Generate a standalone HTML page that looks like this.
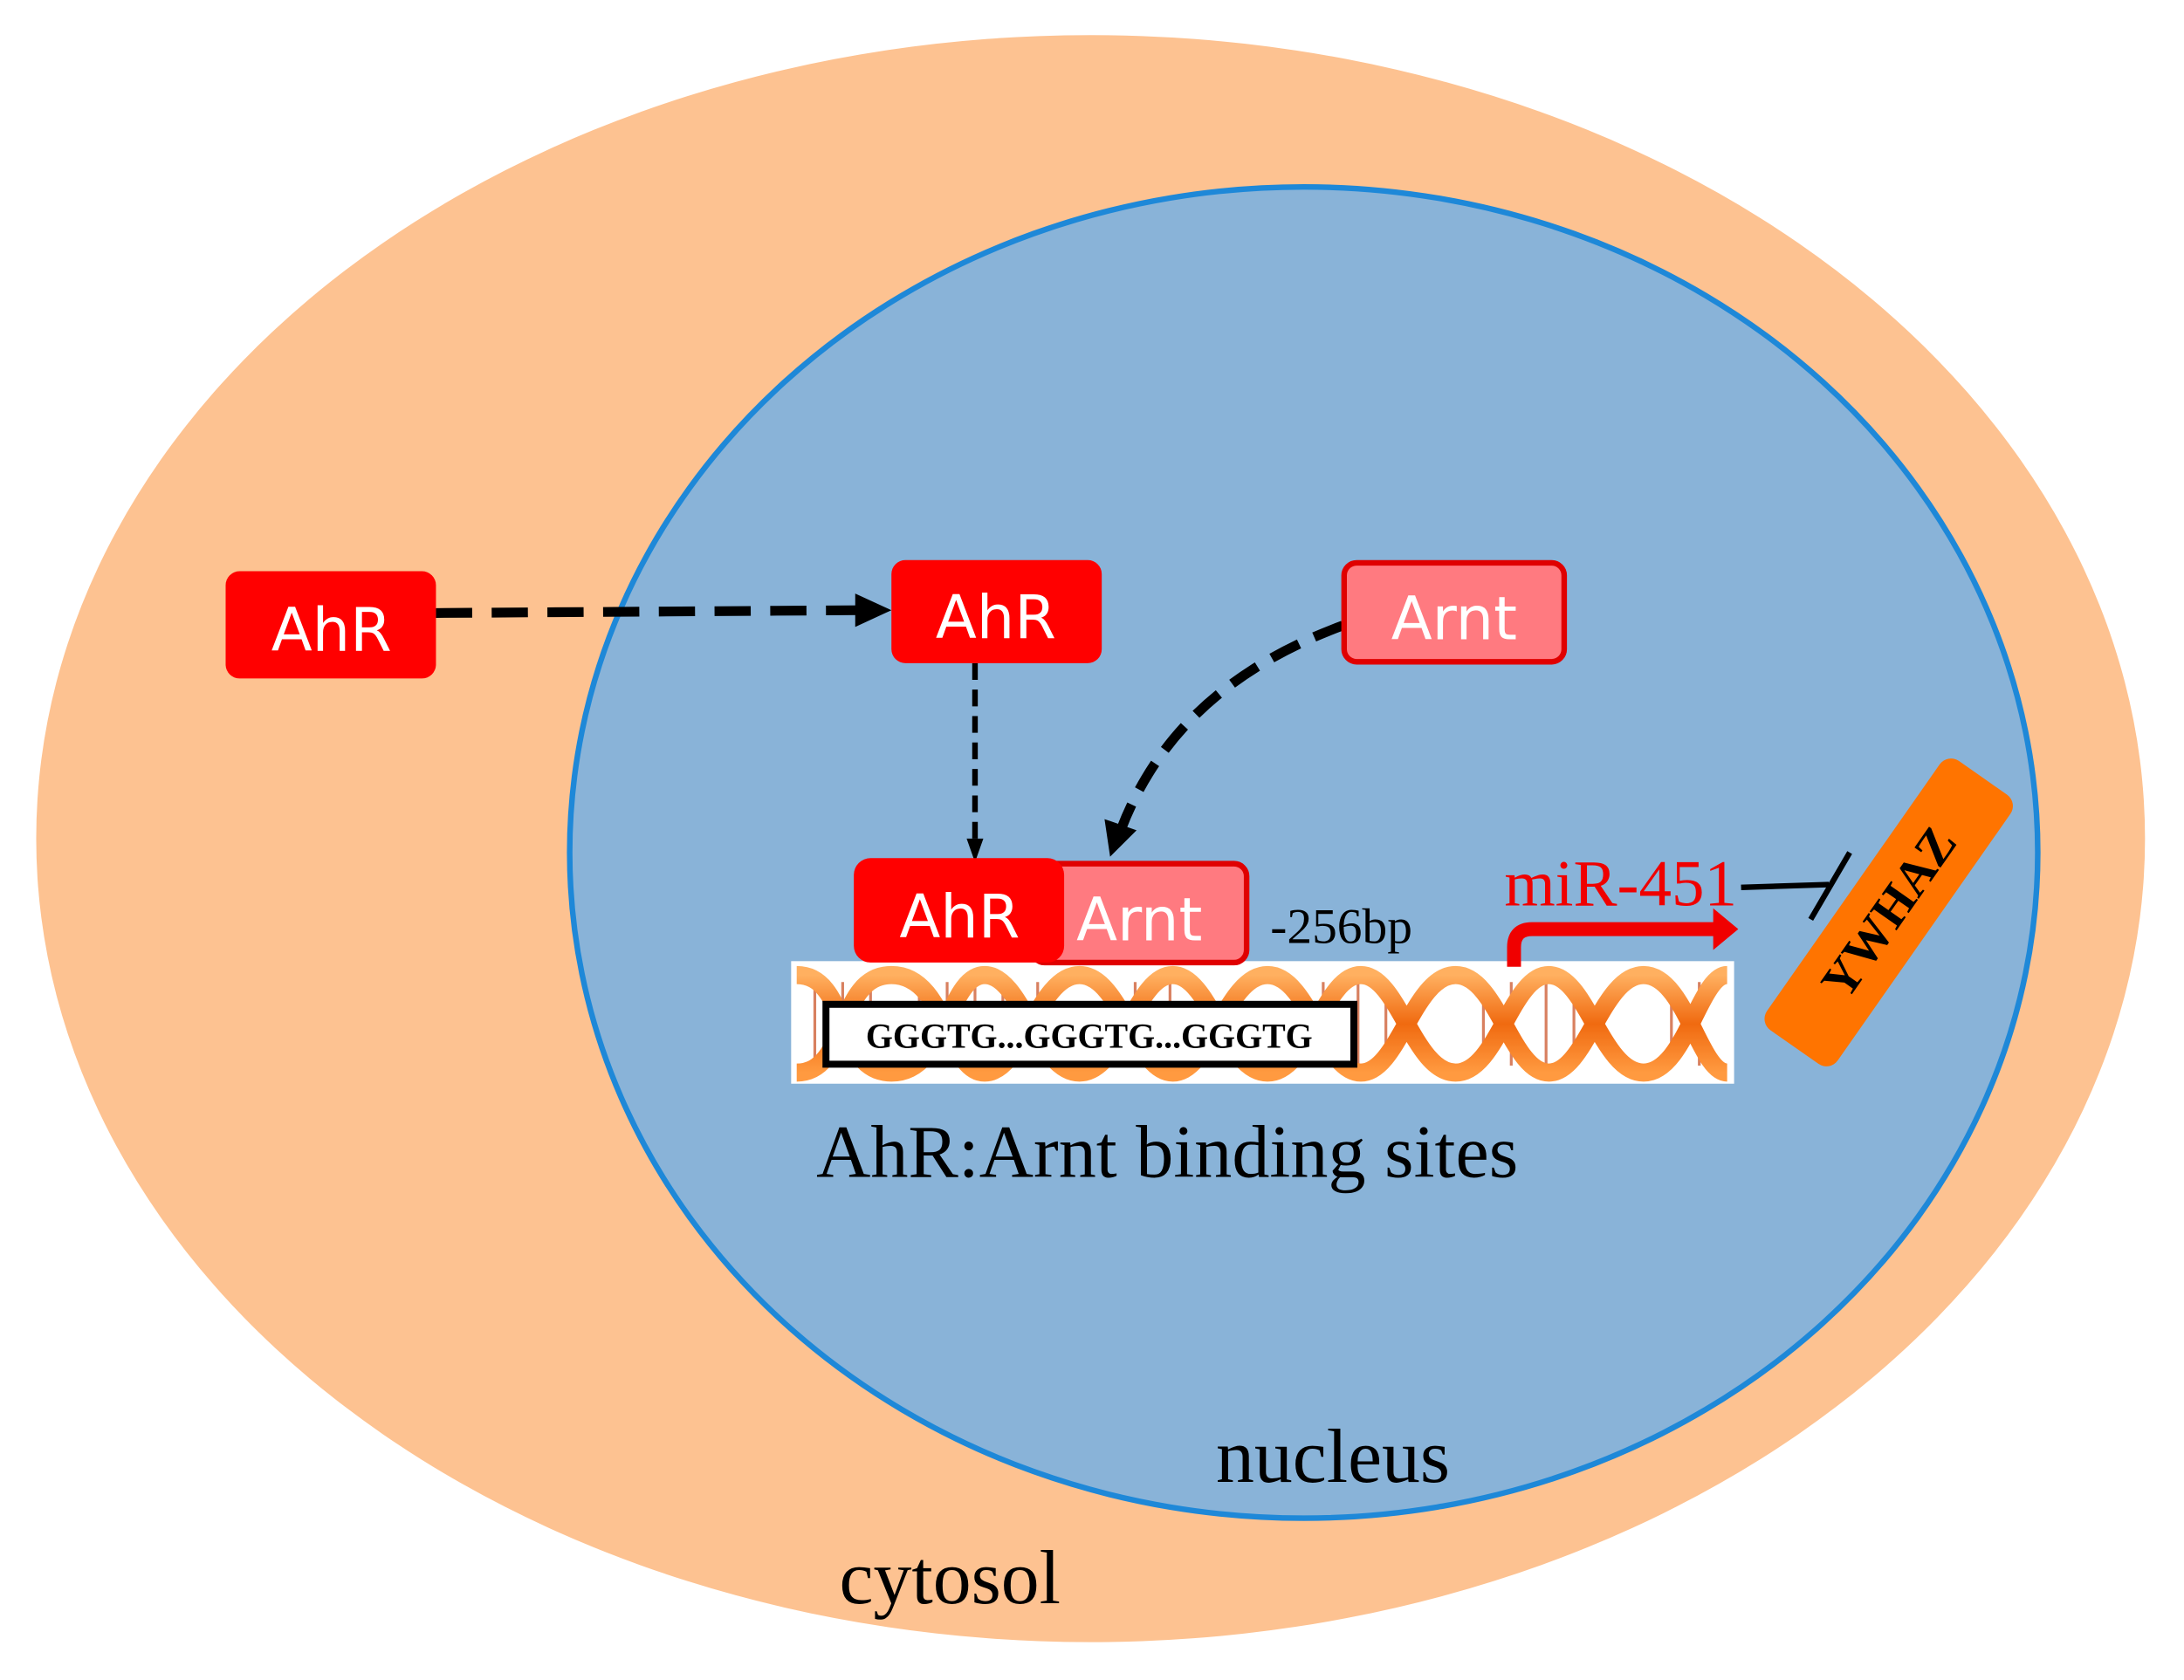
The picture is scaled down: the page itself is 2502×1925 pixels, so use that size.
<!DOCTYPE html>
<html><head><style>html,body{margin:0;padding:0;background:#fff}svg{display:block}</style></head>
<body>
<svg width="2502" height="1925" viewBox="0 0 1568 1206" xmlns="http://www.w3.org/2000/svg">
<defs>
<linearGradient id="hg" x1="0" y1="0" x2="0" y2="1"><stop offset="0" stop-color="#ffb060"/><stop offset="0.5" stop-color="#f06a10"/><stop offset="1" stop-color="#ff9a40"/></linearGradient>
</defs>
<rect width="1568" height="1206" fill="#fff"/>
<ellipse cx="783" cy="602" rx="757" ry="577" fill="#fdc291"/>
<ellipse cx="936" cy="612" rx="527" ry="478" fill="#89b3d8" stroke="#1e88d8" stroke-width="4"/>
<!-- DNA -->
<rect x="568" y="690" width="677" height="88" fill="#fff"/>
<g stroke="#d88060" stroke-width="2">
<path d="M585 705V765M605 705V765M625 705V765M660 705V765M680 705V765M700 705V765M720 705V765M745 705V765M795 705V765M815 705V765M840 705V765M860 705V765M930 705V765M950 705V765M975 705V765M995 705V765M1065 705V765M1085 705V765M1110 705V765M1130 705V765M1200 705V765M1220 705V765"/>
</g>
<g fill="none" stroke="url(#hg)" stroke-width="13">
<path d="M572 700 C 610 700, 600 770, 640 770 S 680 700, 707 700 S 745 770, 775 770 S 815 700, 842 700 S 880 770, 910 770 S 950 700, 977 700 S 1015 770, 1045 770 S 1085 700, 1112 700 S 1150 770, 1180 770 S 1220 700, 1240 700"/>
<path d="M572 770 C 610 770, 600 700, 640 700 S 680 770, 707 770 S 745 700, 775 700 S 815 770, 842 770 S 880 700, 910 700 S 950 770, 977 770 S 1015 700, 1045 700 S 1085 770, 1112 770 S 1150 700, 1180 700 S 1220 770, 1240 770"/>
</g>
<rect x="593" y="721" width="379" height="43" fill="#fff" stroke="#000" stroke-width="5"/>
<text x="782" y="752" font-family="Liberation Serif" font-weight="bold" font-size="25" text-anchor="middle">GGGTG...GGGTG...GGGTG</text>
<text x="838" y="845" font-family="Liberation Serif" font-size="54" text-anchor="middle">AhR:Arnt binding sites</text>
<text x="912" y="677" font-family="Liberation Serif" font-size="36">-256bp</text>
<!-- arrows -->
<path d="M313 440 L618 438" stroke="#000" stroke-width="7" stroke-dasharray="26 14" fill="none"/>
<polygon points="614,426 640,438 614,450" fill="#000"/>
<path d="M700 476 L700 604" stroke="#000" stroke-width="4" stroke-dasharray="12 7" fill="none"/>
<polygon points="694,602 700,619 706,602" fill="#000"/>
<path d="M964 449 C 880 480, 830 530, 805 595" stroke="#000" stroke-width="7" stroke-dasharray="22 12" fill="none"/>
<polygon points="793,588 797,615 816,596" fill="#000"/>
<!-- boxes -->
<rect x="162" y="410" width="151" height="77" rx="10" fill="#ff0000"/>
<text x="238" y="467" font-family="DejaVu Sans" font-size="43" fill="#fff" text-anchor="middle">AhR</text>
<rect x="640" y="402" width="151" height="74" rx="10" fill="#ff0000"/>
<text x="715" y="458" font-family="DejaVu Sans" font-size="43" fill="#fff" text-anchor="middle">AhR</text>
<rect x="965" y="404" width="158" height="71" rx="9" fill="#ff7a80" stroke="#e00000" stroke-width="4"/>
<text x="1044" y="459" font-family="DejaVu Sans" font-size="43" fill="#fff" text-anchor="middle">Arnt</text>
<rect x="741" y="620" width="154" height="71" rx="9" fill="#ff7a80" stroke="#e00000" stroke-width="4"/>
<text x="818" y="675" font-family="DejaVu Sans" font-size="43" fill="#fff" text-anchor="middle">Arnt</text>
<rect x="613" y="616" width="151" height="75" rx="12" fill="#ff0000"/>
<text x="689" y="673" font-family="DejaVu Sans" font-size="43" fill="#fff" text-anchor="middle">AhR</text>
<!-- miR -->
<text x="1080" y="650" font-family="Liberation Serif" font-size="47" fill="#f00000">miR-451</text>
<path d="M1087 694 V680 Q1087 667 1100 667 H1232" stroke="#f00000" stroke-width="10" fill="none"/>
<polygon points="1230,652 1248,667 1230,682" fill="#f00000"/>
<path d="M1250 637 L1313 635" stroke="#000" stroke-width="4"/>
<path d="M1300 660 L1328 612" stroke="#000" stroke-width="4"/>
<g transform="translate(1356,655) rotate(-55)">
<rect x="-118" y="-31" width="236" height="62" rx="10" fill="#ff7400"/>
<text x="0" y="12" font-family="Liberation Serif" font-weight="bold" font-size="36" text-anchor="middle">YWHAZ</text>
</g>
<text x="957" y="1064" font-family="Liberation Serif" font-size="55" text-anchor="middle">nucleus</text>
<text x="682" y="1151" font-family="Liberation Serif" font-size="55" text-anchor="middle">cytosol</text>
</svg>
</body></html>
